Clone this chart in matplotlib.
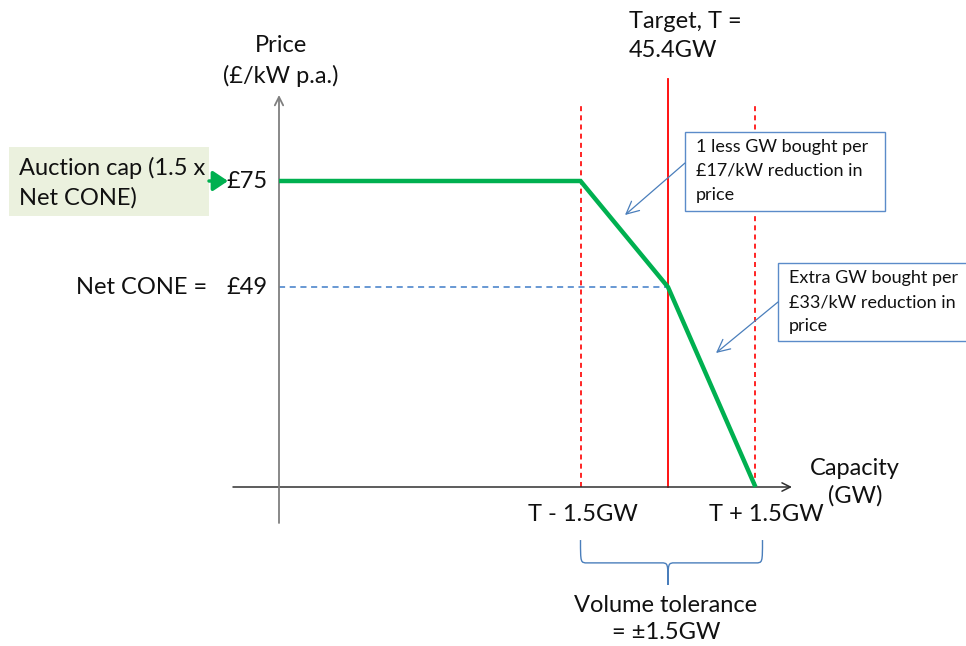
import matplotlib
matplotlib.use("Agg")
import matplotlib.pyplot as plt
from matplotlib.patches import Rectangle, FancyArrowPatch, PathPatch
from matplotlib.path import Path

plt.rcParams['font.family'] = ['Lato', 'DejaVu Sans']

# ---- data -----------------------------------------------------------
target_gw = 45.4          # target capacity T (GW)
tolerance_gw = 1.5        # volume tolerance (GW)
price_cap = 75            # auction cap (£/kW p.a.)
net_cone = 49             # Net CONE (£/kW p.a.)
price_floor = 0

curve_capacity = [target_gw - tolerance_gw, target_gw, target_gw + tolerance_gw]
curve_price = [price_cap, net_cone, price_floor]

tick_labels = ["T - 1.5GW", "T + 1.5GW"]

# ---- figure ---------------------------------------------------------
W, H = 966, 646
fig = plt.figure(figsize=(W / 100, H / 100), dpi=100)


def fx(x):
    return x / W


def fy(y):
    return 1 - y / H


GREEN = "#00B050"
RED = "#FF0000"
BLUE = "#4A7EBB"
BOX_EDGE = "#5B8BC9"
TXT = "#111111"
BIG = 17
SMALL = 13

# plotting area: price axis on the left edge, capacity axis on the bottom edge
ax_left, ax_right, ax_bottom, ax_top = 279, 792, 487, 95
ax = fig.add_axes([fx(ax_left), fy(ax_bottom),
                   (ax_right - ax_left) / W, (ax_bottom - ax_top) / H])
px_per_gw = 58.33
t_px = 668
xmin = target_gw - (t_px - ax_left) / px_per_gw
xmax = target_gw + (ax_right - t_px) / px_per_gw
ax.set_xlim(xmin, xmax)
ymax = price_cap * (ax_bottom - ax_top) / (ax_bottom - 181)
ax.set_ylim(0, ymax)
ax.axis("off")

# axes with open arrow heads
ax.annotate("", xy=(1, 0), xytext=(-0.0897, 0), xycoords="axes fraction",
            arrowprops=dict(arrowstyle="->,head_length=0.6,head_width=0.3",
                            color="#303030", lw=1.1, shrinkA=0, shrinkB=0),
            annotation_clip=False)
ax.annotate("", xy=(0, 1), xytext=(0, -0.0918), xycoords="axes fraction",
            arrowprops=dict(arrowstyle="->,head_length=0.6,head_width=0.3",
                            color="#7F7F7F", lw=1.3, shrinkA=0, shrinkB=0),
            annotation_clip=False)

# tolerance band and target lines
for c in (curve_capacity[0], curve_capacity[2]):
    ax.plot([c, c], [price_floor, ymax - 2.2], color=RED, lw=1.2,
            linestyle=(0, (3, 2.5)), clip_on=False, zorder=2)
ax.plot([target_gw, target_gw], [price_floor, 100], color=RED, lw=1.3,
        clip_on=False, zorder=2)

# Net CONE guide
ax.plot([xmin, target_gw], [net_cone, net_cone], color="#3F7CC8", lw=1.1,
        linestyle=(0, (4, 3)), zorder=2)

# demand curve
ax.plot([xmin] + curve_capacity, [price_cap] + curve_price, color=GREEN,
        lw=3.2, solid_joinstyle="miter", solid_capstyle="butt", zorder=3,
        clip_on=False)

# ---- labels ---------------------------------------------------------
fig.text(fx(281), fy(61), "Price\n(£/kW p.a.)", ha="center", va="center",
         fontsize=BIG, color=TXT, linespacing=1.45)
fig.text(fx(629), fy(36), "Target, T =\n45.4GW", ha="left", va="center",
         fontsize=BIG, color=TXT, linespacing=1.45)
fig.text(fx(855), fy(482), "Capacity\n(GW)", ha="center", va="center",
         fontsize=BIG, color=TXT, linespacing=1.35)

ax.annotate(f"£{price_cap}", xy=(xmin, price_cap), xytext=(-8, 0),
            textcoords="offset points", ha="right", va="center",
            fontsize=BIG, color=TXT, annotation_clip=False)
ax.annotate(f"£{net_cone}", xy=(xmin, net_cone), xytext=(-8, 0),
            textcoords="offset points", ha="right", va="center",
            fontsize=BIG, color=TXT, annotation_clip=False)
ax.annotate("Net CONE =", xy=(xmin, net_cone), xytext=(-52, 0),
            textcoords="offset points", ha="right", va="center",
            fontsize=BIG, color=TXT, annotation_clip=False)

for c, lab in zip((curve_capacity[0], curve_capacity[2]), tick_labels):
    ax.annotate(lab, xy=(c, 0), xytext=(2 if c < target_gw else 8, -20),
                textcoords="offset points", ha="center", va="center",
                fontsize=BIG, color=TXT, annotation_clip=False)

# auction cap call-out
fig.add_artist(Rectangle((fx(9), fy(216)), (209 - 9) / W, (216 - 147) / H,
                         transform=fig.transFigure, fc="#EBF1DE", ec="none"))
fig.text(fx(19), fy(183), "Auction cap (1.5 x\nNet CONE)", ha="left",
         va="center", fontsize=BIG, color=TXT, linespacing=1.45)
fig.add_artist(FancyArrowPatch((fx(209), fy(181)), (fx(228), fy(181)),
                               transform=fig.transFigure,
                               arrowstyle="-|>,head_length=0.45,head_width=0.3",
                               mutation_scale=20, color=GREEN, lw=2.5,
                               shrinkA=0, shrinkB=0))

# slope call-outs
fig.add_artist(Rectangle((fx(685), fy(211)), (885 - 685) / W, (211 - 132) / H,
                         transform=fig.transFigure, fc="white", ec=BOX_EDGE,
                         lw=1, zorder=5))
fig.text(fx(696), fy(171), "1 less GW bought per\n£17/kW reduction in\nprice",
         ha="left", va="center", fontsize=SMALL, color=TXT, linespacing=1.6,
         zorder=6)
fig.add_artist(FancyArrowPatch((fx(685), fy(163)), (fx(625), fy(215)),
                               transform=fig.transFigure,
                               arrowstyle="->,head_length=0.45,head_width=0.22",
                               mutation_scale=20, color=BLUE, lw=0.9,
                               shrinkA=0, shrinkB=0, zorder=6))

fig.add_artist(Rectangle((fx(778), fy(341)), (990 - 778) / W, (341 - 263) / H,
                         transform=fig.transFigure, fc="white", ec=BOX_EDGE,
                         lw=1, zorder=5))
fig.text(fx(789), fy(302), "Extra GW bought per\n£33/kW reduction in\nprice",
         ha="left", va="center", fontsize=SMALL, color=TXT, linespacing=1.6,
         zorder=6)
fig.add_artist(FancyArrowPatch((fx(778), fy(302)), (fx(716), fy(353)),
                               transform=fig.transFigure,
                               arrowstyle="->,head_length=0.45,head_width=0.22",
                               mutation_scale=20, color=BLUE, lw=0.9,
                               shrinkA=0, shrinkB=0, zorder=6))

# volume tolerance brace
x0, x1, xm = curve_capacity[0], curve_capacity[2] + 0.12, target_gw
y_top, y_mid, y_tip = -13.0, -18.6, -24.0
r = 0.12
verts = [(x0, y_top), (x0, y_mid), (x0, y_mid), (x0 + r, y_mid),
         (xm - r, y_mid),
         (xm, y_mid), (xm, y_mid), (xm, y_tip),
         (xm, y_mid), (xm, y_mid), (xm + r, y_mid),
         (x1 - r, y_mid),
         (x1, y_mid), (x1, y_mid), (x1, y_top)]
codes = [Path.MOVETO, Path.CURVE4, Path.CURVE4, Path.CURVE4,
         Path.LINETO,
         Path.CURVE4, Path.CURVE4, Path.CURVE4,
         Path.CURVE4, Path.CURVE4, Path.CURVE4,
         Path.LINETO,
         Path.CURVE4, Path.CURVE4, Path.CURVE4]
ax.add_patch(PathPatch(Path(verts, codes), fc="none", ec=BLUE, lw=1,
                       clip_on=False))

fig.text(fx(666), fy(619), "Volume tolerance\n= ±1.5GW", ha="center",
         va="center", fontsize=BIG, color=TXT, linespacing=1.4)

fig.savefig("out.png", dpi=100)
